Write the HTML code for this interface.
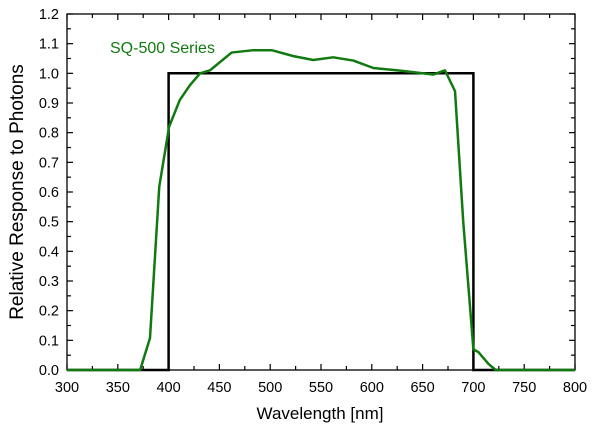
<!DOCTYPE html>
<html><head><style>body{margin:0;background:#fff}</style></head><body>
<svg width="600" height="433" xmlns="http://www.w3.org/2000/svg" font-family="Liberation Sans, Arial, sans-serif">
<rect width="600" height="433" fill="#fff"/>
<g id="ticks" stroke="#000" stroke-width="1.2">
</g>
<rect x="67" y="14" width="508" height="356" fill="none" stroke="#000" stroke-width="1.3"/>
<polyline fill="none" stroke="#000" stroke-width="2.5" points="67,370 168.6,370 168.6,73.3 473.4,73.3 473.4,370 575,370"/>
<polyline id="gr" fill="none" stroke="#107a10" stroke-width="2.5" stroke-linejoin="round" points=""/>
<text x="110" y="53" font-size="16" fill="#107a10">SQ-500 Series</text>
<text x="320" y="419" font-size="17" text-anchor="middle">Wavelength [nm]</text>
<text transform="translate(23,192) rotate(-90)" font-size="19" text-anchor="middle">Relative Response to Photons</text>
<script>
var g=document.getElementById('ticks'),ns='http://www.w3.org/2000/svg';
function X(w){return 67+(w-300)*508/500}
function Y(v){return 370-v*296.67}
function L(a,b,c,d){var l=document.createElementNS(ns,'line');l.setAttribute('x1',a);l.setAttribute('y1',b);l.setAttribute('x2',c);l.setAttribute('y2',d);g.appendChild(l)}
function T(x,y,s,a){var t=document.createElementNS(ns,'text');t.setAttribute('x',x);t.setAttribute('y',y);t.setAttribute('font-size','14.5');t.setAttribute('text-anchor',a);t.setAttribute('stroke','none');t.textContent=s;g.appendChild(t)}
for(var w=300;w<=800;w+=25){var big=w%50==0,len=big?6:4;L(X(w),370,X(w),370-len);L(X(w),14,X(w),14+len);if(big)T(X(w),392,w,'middle')}
for(var i=0;i<=24;i++){var v=i*0.05,big=i%2==0,len=big?6:4;L(67,Y(v),67+len,Y(v));L(575,Y(v),575-len,Y(v));if(big)T(59,Y(v)+5,(v).toFixed(1),'end')}
var d=[[300,0],[372,0],[381.7,0.108],[390.8,0.618],[400.5,0.82],[411,0.91],[421,0.96],[431,1.0],[440.7,1.01],[462,1.07],[483.4,1.078],[501.5,1.078],[522.8,1.058],[542.4,1.045],[562,1.054],[581.8,1.043],[601.5,1.018],[627.8,1.009],[660.5,0.996],[672,1.01],[681.9,0.94],[690,0.5],[700,0.07],[705,0.06],[710,0.04],[715,0.02],[722,0],[800,0]];
document.getElementById('gr').setAttribute('points',d.map(function(p){return X(p[0])+','+Y(p[1])}).join(' '));
</script>
</svg>
</body></html>
